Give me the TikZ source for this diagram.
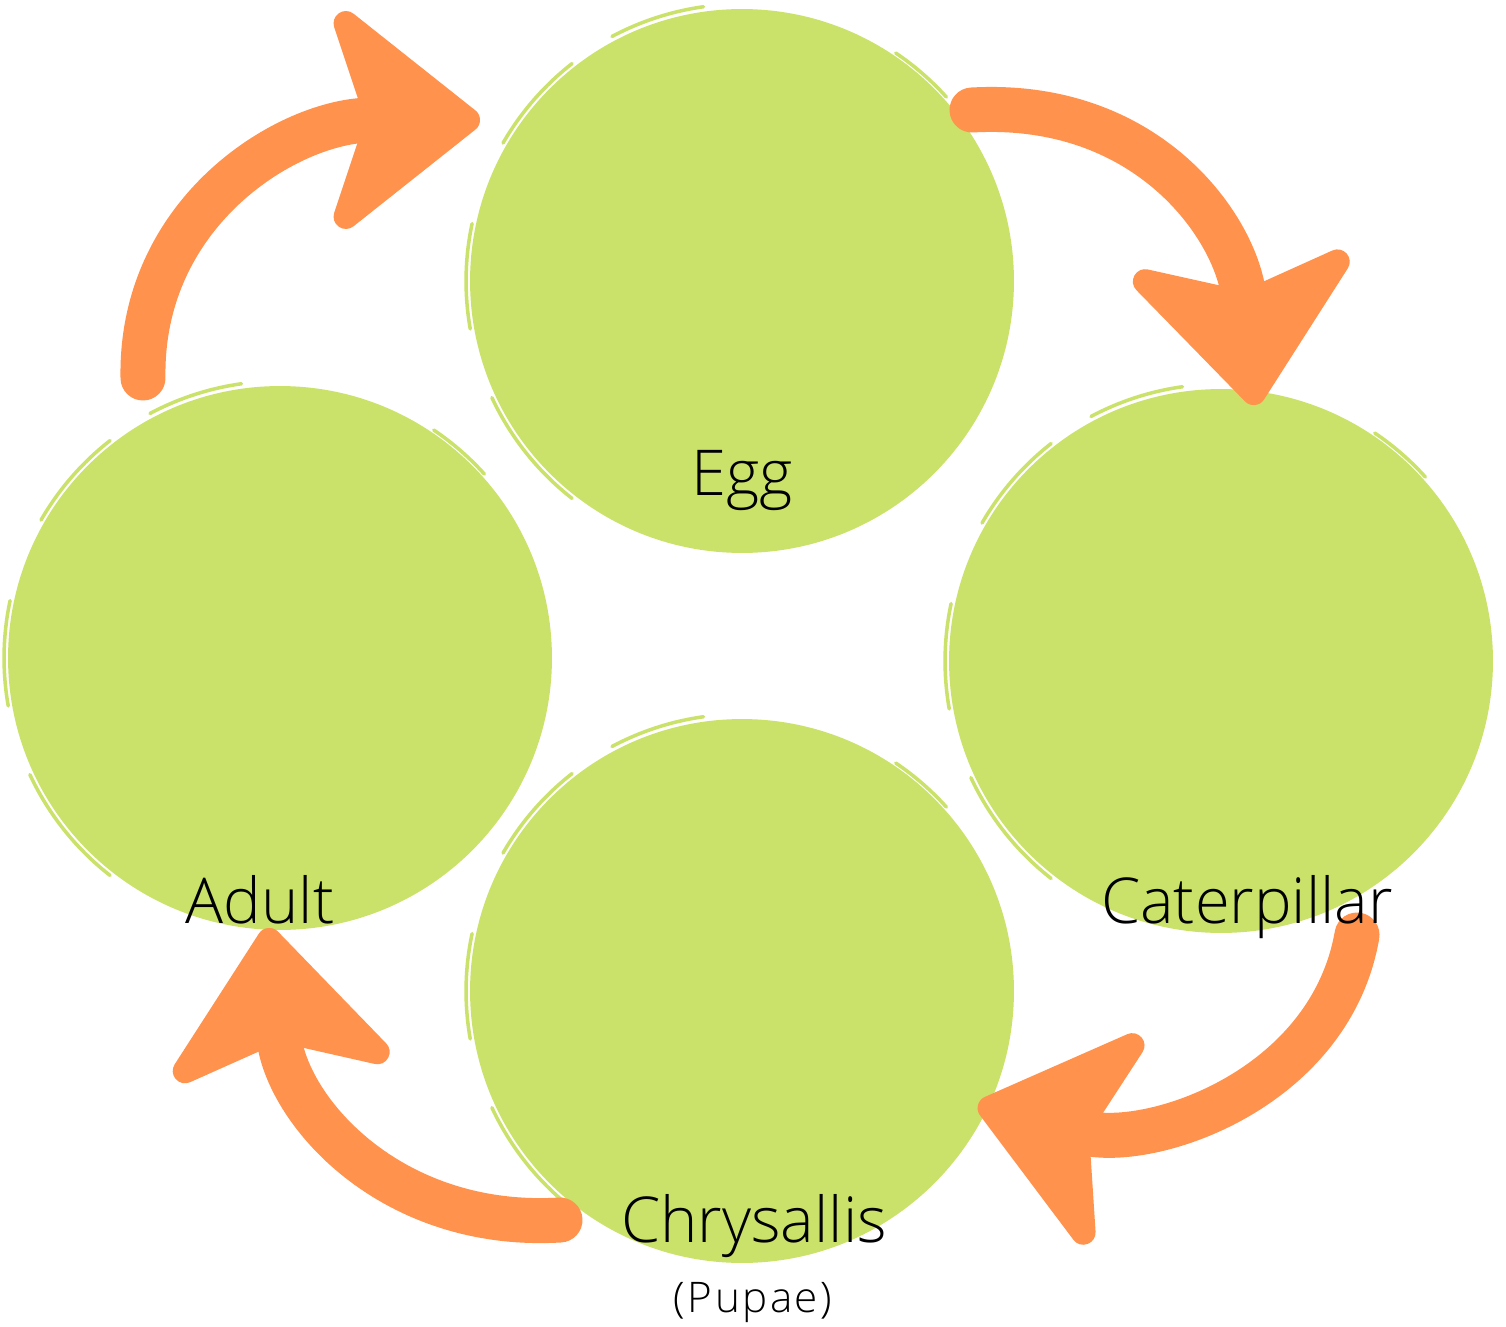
\documentclass[tikz,border=0pt]{standalone}
\usepackage{fontspec}
\IfFontExistsTF{Open Sans Light}{\setmainfont{Open Sans Light}}{%
  \IfFontExistsTF{OpenSans-Light.ttf}{\setmainfont{OpenSans-Light.ttf}}{\setmainfont{Open Sans}}}
\usetikzlibrary{arrows.meta}

\definecolor{leaf}{RGB}{202,226,106}
\definecolor{peach}{RGB}{255,146,77}

\begin{document}
\begin{tikzpicture}[x=0.02cm,y=-0.02cm]
  \tikzstyle{stage}=[circle,fill=leaf,minimum size=10.88cm,inner sep=0pt]
  \tikzstyle{streak}=[draw=leaf,line width=2pt,line cap=round]
  \tikzstyle{caption}=[font=\fontsize{36}{40}\selectfont,anchor=base,inner sep=0pt]
  \tikzstyle{subcaption}=[font=\fontsize{24}{28}\selectfont\addfontfeature{LetterSpace=6},anchor=base,inner sep=0pt]
  \tikzstyle{lifearrow}=[draw=peach,line width=0.9cm,line cap=round,
    -{Stealth[length=3.3cm,width=5.2cm,inset=0.85cm,line width=14pt,round]}]
  \fill[white] (0,0) rectangle (1506,1327);
  \useasboundingbox (0,0) rectangle (1506,1327);

  % the four stages
  \node[stage] (egg) at (742,281) {};
  \node[stage] (larva) at (1221,661) {};
  \node[stage] (pupa) at (742,991) {};
  \node[stage] (adult) at (280,658) {};

  % brushy edges
  \foreach \n in {egg,larva,pupa,adult} {
    \draw[streak] ([shift={(98:5.54cm)}]\n.center) arc[start angle=98,end angle=118,radius=5.54cm];
    \draw[streak] ([shift={(128:5.52cm)}]\n.center) arc[start angle=128,end angle=150,radius=5.52cm];
    \draw[streak] ([shift={(168:5.52cm)}]\n.center) arc[start angle=168,end angle=190,radius=5.52cm];
    \draw[streak] ([shift={(205:5.52cm)}]\n.center) arc[start angle=205,end angle=232,radius=5.52cm];
    \draw[streak] ([shift={(42:5.5cm)}]\n.center) arc[start angle=42,end angle=56,radius=5.5cm];
  }

  % ends of the arrows
  \coordinate (adultout) at (143,378);
  \coordinate (eggin) at (480,120);
  \coordinate (eggout) at (972,110);
  \coordinate (larvain) at (1255,405);
  \coordinate (larvaout) at (1357,935);
  \coordinate (pupain) at (978,1105);
  \coordinate (pupaout) at (560,1220);
  \coordinate (adultin) at (268,928);

  \draw[lifearrow] (adultout) .. controls (140,210) and (290,120) .. (eggin);
  \draw[lifearrow] (eggout) .. controls (1150,100) and (1237,230) .. (larvain);
  \draw[lifearrow] (larvaout) .. controls (1330,1090) and (1150,1150) .. (pupain);
  \draw[lifearrow] (pupaout) .. controls (390,1230) and (286,1110) .. (adultin);

  % labels
  \node[caption] (egglbl) at (742,495) {Egg};
  \node[caption] (larvalbl) at (1247,923) {Caterpillar};
  \node[caption] (adultlbl) at (260,923) {Adult};
  \node[caption] (pupalbl) at (754,1242) {Chrysallis};
  \node[subcaption] (pupasub) at (753,1312) {(Pupae)};
\end{tikzpicture}
\end{document}
